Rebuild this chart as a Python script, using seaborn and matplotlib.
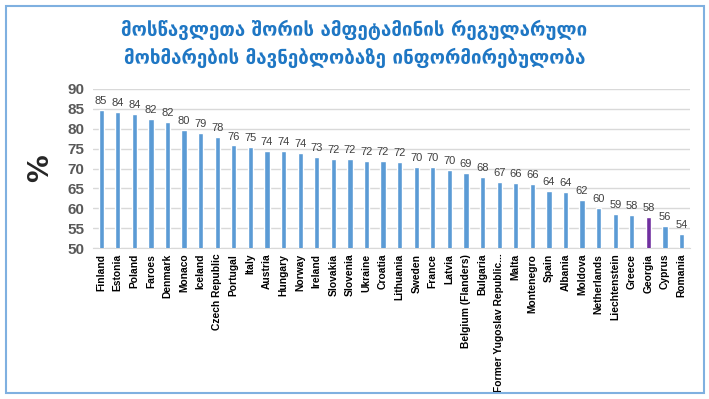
import matplotlib
matplotlib.use("Agg")
import matplotlib.pyplot as plt
import seaborn as sns
import pandas as pd
from matplotlib.patches import Rectangle

# ─── data ────────────────────────────────────────────────
countries = [
    "Finland", "Estonia", "Poland", "Faroes", "Denmark", "Monaco", "Iceland",
    "Czech Republic", "Portugal", "Italy", "Austria", "Hungary", "Norway",
    "Ireland", "Slovakia", "Slovenia", "Ukraine", "Croatia", "Lithuania",
    "Sweden", "France", "Latvia", "Belgium (Flanders)", "Bulgaria",
    "Former Yugoslav Republic...", "Malta", "Montenegro", "Spain", "Albania",
    "Moldova", "Netherlands", "Liechtenstein", "Greece", "Georgia", "Cyprus",
    "Romania",
]
values = [
    84.8, 84.1, 83.6, 82.4, 81.6, 79.7, 79.0, 78.0, 75.8, 75.4, 74.4, 74.3,
    73.9, 72.9, 72.3, 72.3, 71.8, 71.8, 71.6, 70.4, 70.3, 69.7, 68.9, 67.9,
    66.6, 66.3, 66.2, 64.3, 64.1, 62.0, 60.2, 58.6, 58.4, 57.8, 55.6, 53.6,
]
labels = [
    85, 84, 84, 82, 82, 80, 79, 78, 76, 75, 74, 74, 74, 73, 72, 72, 72, 72,
    72, 70, 70, 70, 69, 68, 67, 66, 66, 64, 64, 62, 60, 59, 58, 58, 56, 54,
]
highlight = "Georgia"
title = ("მოსწავლეთა შორის ამფეტამინის რეგულარული\n"
         "მოხმარების მავნებლობაზე ინფორმირებულობა")

df = pd.DataFrame({"country": countries, "value": values})
palette = {c: ("#7030a0" if c == highlight else "#5b9bd5") for c in countries}

sns.set_style("white")
plt.rcParams["font.family"] = ["DejaVu Sans"]
sans = ["Liberation Sans", "DejaVu Sans"]

fig = plt.figure(figsize=(7.09, 3.99), dpi=100)
ax = fig.add_axes([0.131, 0.378, 0.842, 0.399])

sns.barplot(data=df, x="country", y="value", hue="country", palette=palette,
            width=0.32, saturation=1, legend=False, ax=ax, zorder=3)

ax.set_ylim(50, 90)
ax.set_xlim(-0.5, len(countries) - 0.5)
ax.yaxis.grid(True, color="#d9d9d9", linewidth=1, zorder=0)
for s in ["top", "right", "left"]:
    ax.spines[s].set_visible(False)
ax.spines["bottom"].set_color("#d9d9d9")

ax.tick_params(axis="y", length=0, pad=6)
ax.set_yticks(range(50, 91, 5))
ax.set_yticklabels([str(t) for t in range(50, 91, 5)], fontsize=11,
                   fontweight="bold", color="#595959", family=sans)
ax.tick_params(axis="x", length=0, pad=4)
ax.set_xticks(range(len(countries)))
ax.set_xticklabels(countries, rotation=90, fontsize=7.4, fontweight="bold",
                   color="black", family=sans)

for i, (v, lab) in enumerate(zip(values, labels)):
    ax.text(i, v + 1.0, str(lab), ha="center", va="bottom", fontsize=8,
            color="#404040", family=sans)

ax.set_xlabel("")
ax.set_ylabel("%", fontsize=20, fontweight="bold", labelpad=10)

fig.text(0.5, 0.89, title, ha="center", va="center", fontsize=13.5,
         fontweight="bold", color="#1f77c4", linespacing=1.5)

# light blue frame round the whole chart
fig.patches.append(Rectangle((0.008, 0.015), 0.985, 0.97,
                             transform=fig.transFigure, fill=False,
                             edgecolor="#7fb0e0", linewidth=1.5))

fig.savefig("out.png", dpi=100)
